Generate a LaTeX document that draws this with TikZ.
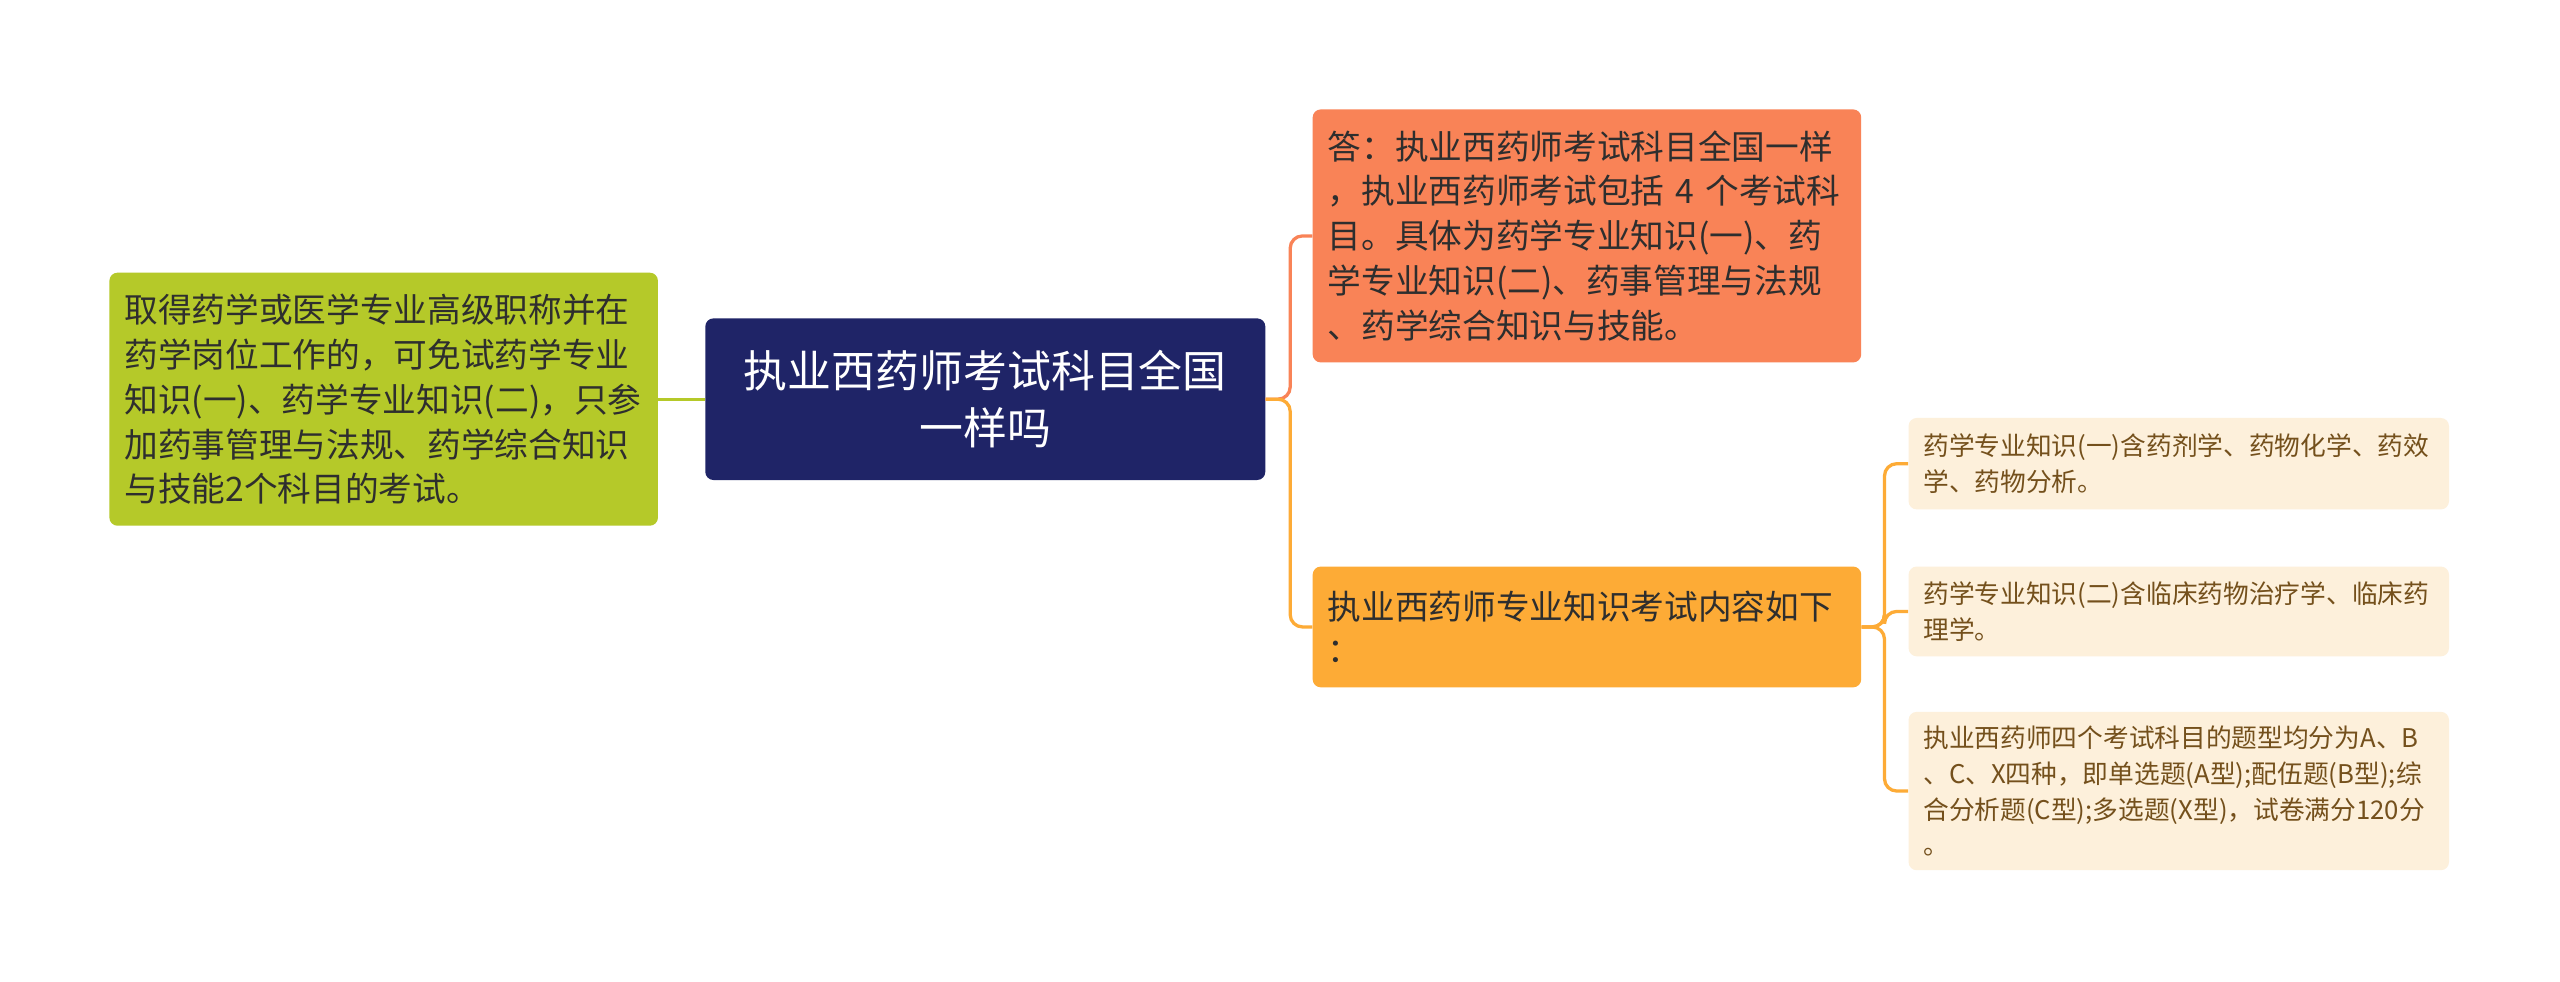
\documentclass[tikz,border=0pt]{standalone}
\usepackage{fontspec}
\setmainfont{Noto Sans CJK SC}

\definecolor{rootblue}{HTML}{1F2467}
\definecolor{leafgreen}{HTML}{B5C929}
\definecolor{ansorange}{HTML}{F98357}
\definecolor{subyellow}{HTML}{FDAB36}
\definecolor{leafcream}{HTML}{FDF0DB}
\definecolor{txtdark}{HTML}{2E2E2E}
\definecolor{txtbrown}{HTML}{74501C}

\begin{document}
\begin{tikzpicture}[x=0.8pt,y=0.8pt,yscale=-1,xscale=1,
  box/.style={rounded corners=4pt,inner ysep=0pt,align=left,text=txtdark},
  bigbox/.style={box,inner xsep=7.4pt,text width=254pt,minimum height=124pt,
    font=\fontsize{16.5}{22}\selectfont},
  leafbox/.style={box,fill=leafcream,text=txtbrown,inner xsep=7.2pt,text width=250.4pt,
    font=\fontsize{12.6}{17.6}\selectfont},
  conn/.style={line width=1.6pt,rounded corners=6pt}]
\fill[white] (0,0) rectangle (1568,601);
\useasboundingbox (0,0) rectangle (1568,601);

%Shape: Root
\node [box,fill=rootblue,text=white,align=center,inner xsep=8pt,text width=258.4pt,
  minimum height=79.2pt,font=\fontsize{21.5}{28}\selectfont] (root) at (603.5,244.5)
  {执业西药师考试科目全国\\一样吗};

% Text Node
\node [bigbox,fill=leafgreen] (exempt) at (235,244.5)
  {取得药学或医学专业高级职称并在\\药学岗位工作的，可免试药学专业\\知识(一)、药学专业知识(二)，只参\\加药事管理与法规、药学综合知识\\与技能2个科目的考试。};
% Text Node
\node [bigbox,fill=ansorange] (answer) at (972,144.5)
  {答：执业西药师考试科目全国一样\\，执业西药师考试包括 4 个考试科\\目。具体为药学专业知识(一)、药\\学专业知识(二)、药事管理与法规\\、药学综合知识与技能。};
% Text Node
\node [bigbox,fill=subyellow,minimum height=59.2pt,font=\fontsize{16.5}{21}\selectfont] (content) at (972,384)
  {执业西药师专业知识考试内容如下\\：};

% Text Node
\node [leafbox,minimum height=44.8pt] (subj1) at (1334.5,284)
  {药学专业知识(一)含药剂学、药物化学、药效\\学、药物分析。};
% Text Node
\node [leafbox,minimum height=44pt] (subj2) at (1334.5,374.5)
  {药学专业知识(二)含临床药物治疗学、临床药\\理学。};
% Text Node
\node [leafbox,minimum height=77.6pt] (subj3) at (1334.5,484.5)
  {执业西药师四个考试科目的题型均分为A、B\\、C、X四种，即单选题(A型);配伍题(B型);综\\合分析题(C型);多选题(X型)，试卷满分120分\\。};

%Connectors
\draw [conn,leafgreen] (exempt.east) -- (root.west);
\draw [conn,ansorange] (root.east) -- ++(15,0) |- (answer.west);
\draw [conn,subyellow] (root.east) -- ++(15,0) |- (content.west);
\foreach \leaf in {subj1,subj2,subj3}
  \draw [conn,subyellow] (content.east) -- ++(14,0) |- (\leaf.west);

\end{tikzpicture}
\end{document}
